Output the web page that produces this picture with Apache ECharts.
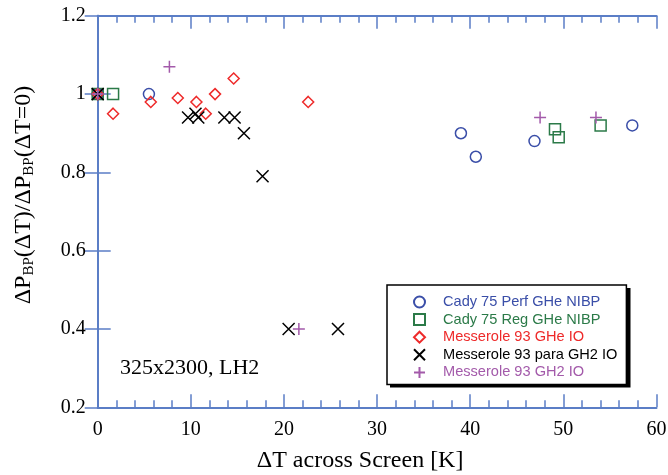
<!DOCTYPE html>
<html>
<head>
<meta charset="utf-8">
<script src="https://cdn.jsdelivr.net/npm/echarts@6/dist/echarts.min.js"></script>
<style>
  html, body { margin: 0; padding: 0; background: #fff; }
  #main { width: 668px; height: 475px; }
</style>
</head>
<body>
<div id="main"></div>
<script>
// data: [dT, ratio]
var cadyPerf = [[0, 1.0], [5.5, 1.0], [39.0, 0.90], [40.6, 0.84], [46.9, 0.88], [57.4, 0.92]];
var cadyReg = [[0, 1.0], [1.65, 1.0], [49.1, 0.91], [49.5, 0.89], [54.0, 0.92]];
var messGHe = [[0, 1.0], [1.65, 0.95], [5.7, 0.98], [8.6, 0.99], [10.6, 0.98], [11.6, 0.95], [12.6, 1.0], [14.6, 1.04], [22.6, 0.98]];
var messPara = [[0, 1.0], [9.7, 0.94], [10.5, 0.95], [10.8, 0.94], [13.6, 0.94], [14.7, 0.94], [15.7, 0.90], [17.7, 0.79], [20.5, 0.40], [25.8, 0.40]];
var messGH2 = [[0, 1.0], [7.7, 1.07], [21.6, 0.40], [47.5, 0.94], [53.5, 0.94]];

var seriesNames = ['Cady 75 Perf GHe NIBP', 'Cady 75 Reg GHe NIBP', 'Messerole 93 GHe IO', 'Messerole 93 para GH2 IO', 'Messerole 93 GH2 IO'];
var seriesColors = ['#3a4ea8', '#2b7a48', '#ee2a2a', '#000000', '#a35aaa'];

var axisColor = '#5b7ec6';
var serif = 'Liberation Serif';

var chartDom = document.getElementById('main');
var myChart = echarts.init(chartDom);

var mkSeries = function (i, data, symbol, size) {
    return {
        name: seriesNames[i],
        type: 'scatter',
        data: data,
        symbol: symbol,
        symbolSize: size,
        symbolKeepAspect: true,
        itemStyle: {
            color: 'none',
            borderColor: seriesColors[i],
            borderWidth: 1.5,
            opacity: 1
        },
        emphasis: { disabled: true }
    };
};

var tickStyle = { color: axisColor, width: 1.5 };

var option = {
    animation: false,
    grid: {
        left: 97.7,
        right: 11.5,
        top: 15.8,
        bottom: 67.7,
        outerBoundsMode: 'none'
    },
    xAxis: [
        {
            type: 'value',
            min: 0,
            max: 60,
            interval: 10,
            name: 'ΔT across Screen [K]',
            nameLocation: 'middle',
            nameGap: 41,
            nameTextStyle: { fontFamily: serif, fontSize: 24, color: '#000', padding: [0, 34, 0, 0] },
            axisLine: { lineStyle: { color: axisColor, width: 2 } },
            axisTick: { inside: true, length: 13, lineStyle: tickStyle },
            minorTick: { show: true, splitNumber: 5, length: 7, lineStyle: tickStyle },
            axisLabel: { fontFamily: serif, fontSize: 20, color: '#000', margin: 12 },
            splitLine: { show: false }
        },
        {
            type: 'value',
            position: 'top',
            min: 0,
            max: 60,
            interval: 10,
            axisLine: { lineStyle: { color: axisColor, width: 2 } },
            axisTick: { inside: true, length: 13, lineStyle: tickStyle },
            minorTick: { show: true, splitNumber: 5, length: 7, lineStyle: tickStyle },
            axisLabel: { show: false },
            splitLine: { show: false }
        }
    ],
    yAxis: [
        {
            type: 'value',
            min: 0.2,
            max: 1.2,
            interval: 0.2,
            name: 'ΔP{sub|BP}(ΔT)/ΔP{sub|BP}(ΔT=0)',
            nameLocation: 'middle',
            nameGap: 61,
            nameTextStyle: {
                fontFamily: serif, fontSize: 24, color: '#000',
                padding: [0, 0, 0, 33],
                rich: {
                    sub: { fontFamily: serif, fontSize: 15, color: '#000', verticalAlign: 'bottom', padding: [10, 0, 0, 0] }
                }
            },
            axisLine: { lineStyle: { color: axisColor, width: 2 } },
            axisTick: { inside: true, length: 13, lineStyle: tickStyle },
            axisLabel: {
                fontFamily: serif, fontSize: 20, color: '#000', margin: 12,
                formatter: function (v) { return String(Math.round(v * 10) / 10); }
            },
            splitLine: { show: false }
        },
        {
            type: 'value',
            position: 'right',
            min: 0.2,
            max: 1.2,
            interval: 0.2,
            axisLine: { show: true, lineStyle: { color: axisColor, width: 2 } },
            axisTick: { show: true, inside: true, length: 13, lineStyle: tickStyle },
            axisLabel: { show: false },
            splitLine: { show: false }
        }
    ],
    legend: {
        orient: 'vertical',
        left: 387,
        top: 285,
        z: 10,
        padding: [9, 9, 4, 24.5],
        itemWidth: 11,
        itemHeight: 11,
        itemGap: 1.6,
        backgroundColor: '#fff',
        borderColor: '#000',
        borderWidth: 1.5,
        textStyle: { fontFamily: 'Liberation Sans', fontSize: 14.6, lineHeight: 16, padding: [0, 0, 0, 13] },
        data: seriesNames.map(function (n, i) {
            return { name: n, textStyle: { color: seriesColors[i] } };
        })
    },
    graphic: [
        {
            // drop shadow behind the legend box
            type: 'rect',
            z: 5,
            shape: { x: 390, y: 288, width: 240.5, height: 99.5 },
            style: { fill: '#000' }
        },
        {
            type: 'text',
            left: 120,
            top: 357,
            style: { text: '325x2300, LH2', fontFamily: serif, fontSize: 22, fill: '#000' }
        }
    ],
    series: [
        mkSeries(0, cadyPerf, 'circle', 11),
        mkSeries(1, cadyReg, 'rect', 11),
        mkSeries(2, messGHe, 'diamond', 11),
        mkSeries(3, messPara, 'path://M0,0L10,10M10,0L0,10', 12),
        mkSeries(4, messGH2, 'path://M5,0L5,10M0,5L10,5', 12)
    ]
};

myChart.setOption(option);
</script>
</body>
</html>
